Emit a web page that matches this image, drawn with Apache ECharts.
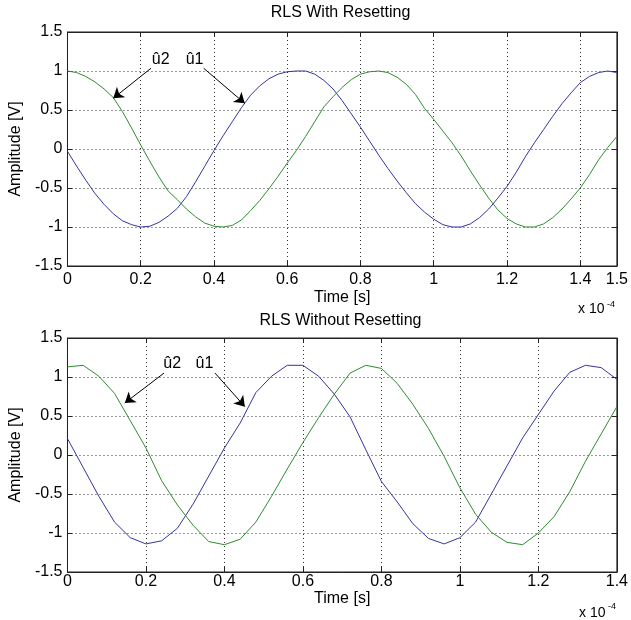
<!DOCTYPE html>
<html><head><meta charset="utf-8">
<script src="https://cdn.jsdelivr.net/npm/echarts@6/dist/echarts.min.js"></script>
<style>html,body{margin:0;padding:0;background:#fff}#c{width:631px;height:620px}</style>
</head><body><div id="c"></div>
<script>
// ---- data (time in units of 1e-4 s) ----
const timeTop = [0,0.025,0.05,0.075,0.1,0.125,0.15,0.175,0.2,0.225,0.25,0.275,0.3,0.325,0.35,0.375,0.4,0.425,0.45,0.475,0.5,0.525,0.55,0.575,0.6,0.625,0.65,0.675,0.7,0.725,0.75,0.775,0.8,0.825,0.85,0.875,0.9,0.925,0.95,0.975,1.0,1.025,1.05,1.075,1.1,1.125,1.15,1.175,1.2,1.225,1.25,1.275,1.3,1.325,1.35,1.375,1.4,1.425,1.45,1.475,1.5];
const u1Top = [-0.03,-0.22,-0.40,-0.57,-0.71,-0.83,-0.92,-0.97,-1.00,-0.99,-0.94,-0.86,-0.76,-0.61,-0.42,-0.22,-0.02,0.17,0.35,0.53,0.69,0.81,0.90,0.96,0.99,1.00,1.00,0.96,0.88,0.77,0.62,0.45,0.28,0.10,-0.08,-0.25,-0.41,-0.56,-0.70,-0.81,-0.90,-0.97,-1.00,-1.00,-0.96,-0.88,-0.77,-0.63,-0.48,-0.30,-0.10,0.08,0.25,0.42,0.58,0.72,0.85,0.93,0.98,1.00,0.98];
const u2Top = [1.00,0.98,0.93,0.86,0.77,0.66,0.48,0.27,0.05,-0.16,-0.36,-0.54,-0.65,-0.77,-0.87,-0.95,-0.99,-1.00,-0.98,-0.91,-0.79,-0.66,-0.51,-0.35,-0.18,-0.02,0.16,0.35,0.54,0.67,0.79,0.89,0.96,0.99,1.00,0.98,0.92,0.83,0.70,0.52,0.38,0.23,0.08,-0.09,-0.28,-0.46,-0.63,-0.78,-0.89,-0.96,-1.00,-1.00,-0.96,-0.88,-0.77,-0.64,-0.50,-0.33,-0.14,0.02,0.16];

const timeBottom = [0,0.04,0.08,0.12,0.16,0.2,0.24,0.28,0.32,0.36,0.4,0.44,0.48,0.52,0.56,0.6,0.64,0.68,0.72,0.76,0.8,0.84,0.88,0.92,0.96,1.0,1.04,1.08,1.12,1.16,1.2,1.24,1.28,1.32,1.36,1.4];
const u1Bottom = [0.21,-0.16,-0.53,-0.86,-1.06,-1.14,-1.10,-0.94,-0.63,-0.27,0.09,0.41,0.80,1.01,1.15,1.15,1.01,0.78,0.49,0.07,-0.34,-0.60,-0.88,-1.07,-1.14,-1.06,-0.86,-0.50,-0.14,0.22,0.52,0.82,1.06,1.15,1.12,0.97];
const u2Bottom = [1.13,1.15,1.01,0.79,0.44,0.09,-0.33,-0.64,-0.90,-1.11,-1.15,-1.08,-0.86,-0.53,-0.18,0.16,0.48,0.78,1.05,1.15,1.11,0.92,0.65,0.34,-0.02,-0.42,-0.76,-0.99,-1.12,-1.15,-1.00,-0.79,-0.47,-0.08,0.27,0.62];

const titles = ['RLS With Resetting', 'RLS Without Resetting'];
const seriesNames = ['û1', 'û2'];

// annotation anchors (data coordinates)
const labelTopU2 = [0.2545, 1.15], labelTopU1 = [0.347, 1.15];
const arrowTopU2 = [[0.228, 1.035], [0.125, 0.650]];
const arrowTopU1 = [[0.372, 1.035], [0.484, 0.585]];
const labelBotU2 = [0.267, 1.17], labelBotU1 = [0.349, 1.17];
const arrowBotU2 = [[0.246, 1.05], [0.146, 0.667]];
const arrowBotU1 = [[0.376, 1.05], [0.452, 0.62]];

// ---- chart ----
const FONT = '"Liberation Sans", Arial, Helvetica, sans-serif';
const FS = 16;
const BLUE = '#34349e', GREEN = '#2f8c2f', AX = '#222';
const GRIDLINE = {type: [1, 3], color: '#333', width: 1};
const pairs = (t, v) => t.map((x, i) => [x, v[i]]);

function xAx(grid, max, pos, nameGap, margin) {
  const main = pos === 'bottom';
  return {
    gridIndex: grid, type: 'value', min: 0, max: max, interval: 0.2, position: pos,
    name: main ? 'Time [s]' : '', nameLocation: 'middle', nameGap: nameGap,
    nameTextStyle: {fontSize: FS, color: '#000', fontFamily: FONT},
    axisLine: {show: true, onZero: false, lineStyle: {color: AX, width: 1}},
    axisTick: {show: true, inside: true, length: 5, lineStyle: {color: AX}},
    axisLabel: {show: main, fontSize: FS, color: '#000', fontFamily: FONT, margin: margin},
    splitLine: {show: main, lineStyle: GRIDLINE}
  };
}
function yAx(grid, pos) {
  const main = pos === 'left';
  return {
    gridIndex: grid, type: 'value', min: -1.5, max: 1.5, interval: 0.5, position: pos,
    name: main ? 'Amplitude [V]' : '', nameLocation: 'middle', nameGap: 37,
    nameTextStyle: {fontSize: FS, color: '#000', fontFamily: FONT},
    axisLine: {show: true, onZero: false, lineStyle: {color: AX, width: 1}},
    axisTick: {show: true, inside: true, length: 5, lineStyle: {color: AX}},
    axisLabel: {show: main, fontSize: FS, color: '#000', fontFamily: FONT, margin: 5},
    splitLine: {show: main, lineStyle: GRIDLINE}
  };
}
function arrow(seg) {
  return [{coord: seg[0], symbol: 'none'}, {coord: seg[1], symbol: 'arrow'}];
}
function lineSeries(name, xi, yi, t, v, color, lab, arr) {
  return {
    type: 'line', name: name, xAxisIndex: xi, yAxisIndex: yi,
    data: pairs(t, v), symbol: 'none', showSymbol: false, smooth: false,
    lineStyle: {color: color, width: 1}, itemStyle: {color: color},
    silent: true, z: 3,
    markLine: {
      silent: true, symbol: ['none', 'arrow'], symbolSize: 10,
      lineStyle: {color: '#000', width: 1, type: 'solid'},
      label: {show: false}, emphasis: {disabled: true},
      data: [arrow(arr)]
    },
    markPoint: {
      silent: true, symbol: 'rect', symbolSize: 1,
      itemStyle: {color: 'rgba(0,0,0,0)'},
      label: {show: true, position: 'inside', formatter: '{b}', color: '#000', fontSize: FS, fontFamily: FONT},
      data: [{name: name, coord: lab}]
    }
  };
}
const titleStyle = {fontSize: FS, fontWeight: 'normal', color: '#000', fontFamily: FONT};
const smallStyle = {fontSize: 14, fontWeight: 'normal', color: '#000', fontFamily: FONT};
const supStyle = {fontSize: 9, fontWeight: 'normal', color: '#000', fontFamily: FONT};
const option = {
  animation: false,
  backgroundColor: '#fff',
  title: [
    {text: titles[0], left: 340.5, top: 5, textAlign: 'center', padding: 0, textStyle: titleStyle},
    {text: titles[1], left: 340.5, top: 313, textAlign: 'center', padding: 0, textStyle: titleStyle},
    {text: 'x 10', left: 578, top: 302, padding: 0, textStyle: smallStyle},
    {text: '-4', left: 607, top: 300, padding: 0, textStyle: supStyle},
    {text: 'x 10', left: 579, top: 606, padding: 0, textStyle: smallStyle},
    {text: '-4', left: 608, top: 602, padding: 0, textStyle: supStyle}
  ],
  grid: [
    {left: 62, top: 32, width: 557, height: 234, show: true, borderColor: AX, borderWidth: 1, backgroundColor: '#fff'},
    {left: 62, top: 338, width: 557, height: 234, show: true, borderColor: AX, borderWidth: 1, backgroundColor: '#fff'}
  ],
  xAxis: [xAx(0, 1.5, 'bottom', 24, 6), xAx(0, 1.5, 'top'), xAx(1, 1.4, 'bottom', 19, 2), xAx(1, 1.4, 'top')],
  yAxis: [yAx(0, 'left'), yAx(0, 'right'), yAx(1, 'left'), yAx(1, 'right')],
  series: [
    lineSeries(seriesNames[0], 0, 0, timeTop, u1Top, BLUE, labelTopU1, arrowTopU1),
    lineSeries(seriesNames[1], 0, 0, timeTop, u2Top, GREEN, labelTopU2, arrowTopU2),
    lineSeries(seriesNames[0], 2, 2, timeBottom, u1Bottom, BLUE, labelBotU1, arrowBotU1),
    lineSeries(seriesNames[1], 2, 2, timeBottom, u2Bottom, GREEN, labelBotU2, arrowBotU2)
  ]
};
const chart = echarts.init(document.getElementById('c'), null, {renderer: 'canvas'});
chart.setOption(option);
</script></body></html>
